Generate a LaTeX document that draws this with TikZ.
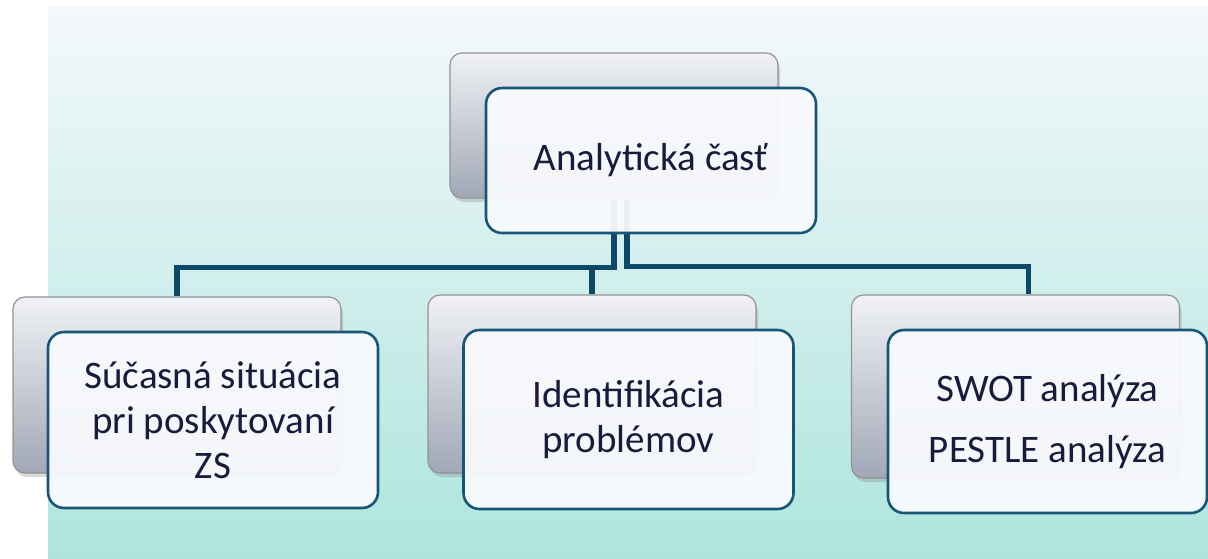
\documentclass[tikz,border=0pt]{standalone}
\usepackage{fontspec}
\setmainfont{Carlito}
\usepackage{tikz}
\usetikzlibrary{shadows, calc}

\definecolor{bgtop}{HTML}{F4F8FB}
\definecolor{bgmid}{HTML}{DCF2F2}
\definecolor{bgbot}{HTML}{ADE5DD}
\definecolor{backtop}{HTML}{F0F2F5}
\definecolor{backbot}{HTML}{A1A7B6}
\definecolor{frontfill}{HTML}{F8FAFD}
\definecolor{boxedge}{HTML}{175676}
\definecolor{linkblue}{HTML}{0E4868}
\definecolor{textnavy}{HTML}{1A1A3C}

\begin{document}
\begin{tikzpicture}[
            x=0.5pt, y=-0.5pt, % one unit is one pixel of the page, y runs down
            backbox/.style={rectangle, rounded corners=6pt, draw=gray!85, line width=0.6pt,
                top color=backtop, bottom color=backbot, minimum width=164pt,
                drop shadow={opacity=0.3, shadow xshift=1pt, shadow yshift=-2pt}}, % grey card behind
            frontbox/.style={rectangle, rounded corners=8pt, draw=boxedge, line width=1.3pt,
                fill=frontfill, fill opacity=0.95, text opacity=1, text=textnavy, align=center,
                minimum width=165pt, font=\fontsize{19.5pt}{22.5pt}\selectfont}, % white card in front
            link/.style={draw=linkblue, line width=2.6pt} % connector
            ]

        % page and background
        \useasboundingbox (0,0) rectangle (1208,558);
        \shade[top color=bgtop, middle color=bgmid, bottom color=bgbot] (48,6) rectangle (1208,558);

        % back layer
        \node[backbox, minimum height=72.5pt] (analyticback) at (614,125.5) {};
        \node[backbox, minimum height=88pt] (situaciaback) at (177,385) {};
        \node[backbox, minimum height=89pt] (problemyback) at (592,384) {};
        \node[backbox, minimum height=91.5pt] (analyzyback) at (1015.5,386.5) {};

        % connectors
        \draw[link] (analyticback.south) -- ++(0,69) -| (situaciaback.north);
        \draw[link] (analyticback.south) -- ++(0,69) -| (problemyback.north);
        \draw[link] ($(analyticback.south)+(13,0)$) -- ++(0,68) -| ($(analyzyback.north)+(13,0)$);

        % front layer
        \node[frontbox, minimum height=72.5pt] (analytic) at (651,160.5) {Analytická časť};
        \node[frontbox, minimum height=88pt] (situacia) at (213,420) {Súčasná situácia\\pri poskytovaní\\ZS};
        \node[frontbox, minimum height=89.5pt] (problemy) at (628.5,419.5) {Identifikácia\\problémov};
        \node[frontbox, minimum height=91.5pt, minimum width=159.5pt] (analyzy) at (1047.5,421.5) {SWOT analýza\\[8pt]PESTLE analýza};

    \end{tikzpicture}
\end{document}
